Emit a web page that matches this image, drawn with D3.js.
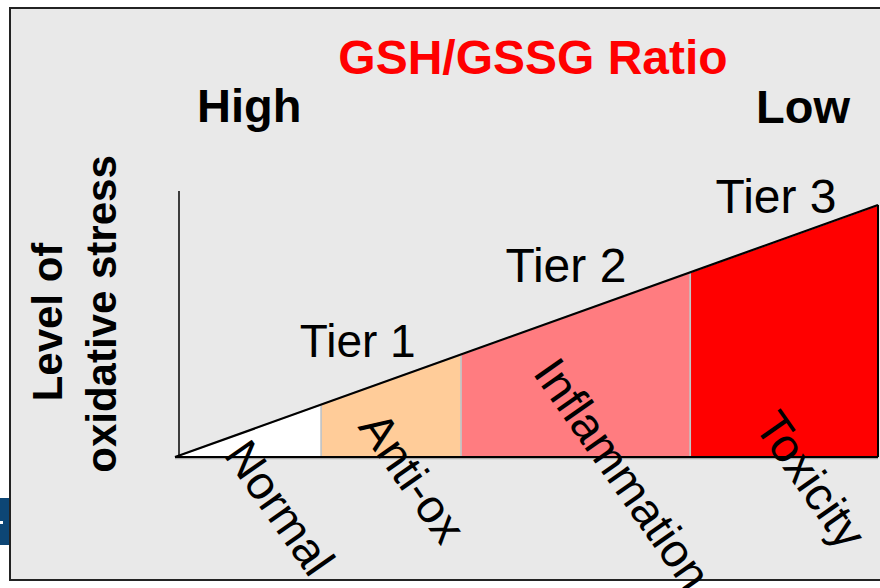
<!DOCTYPE html>
<html>
<head>
<meta charset="utf-8">
<script src="https://cdn.jsdelivr.net/npm/d3@7"></script>
<style>
  body { margin: 0; background: #fff; }
  svg { display: block; font-family: Arial, "Liberation Sans", sans-serif; }
</style>
</head>
<body>
<svg width="880" height="588"></svg>
<script>
// stages along the GSH/GSSG axis (0 = high ratio, 100 = low ratio)
const stages = ['Normal', 'Anti-ox', 'Inflammation', 'Toxicity']
const stageStart = [0, 20.8, 40.7, 73.3]
const stageEnd = [20.8, 40.7, 73.3, 100]
const stageColors = ['#ffffff', '#ffcc99', '#ff7c80', '#ff0000']
const tiers = ['Tier 1', 'Tier 2', 'Tier 3']
const tierAt = [26, 55.6, 85.5]

const svg = d3.select('svg')
const width = +svg.attr('width')

// frame
svg.append('rect')
  .attr('x', 10).attr('y', 8)
  .attr('width', width + 10).attr('height', 572)
  .attr('fill', '#e9e9e9')
  .attr('stroke', '#222').attr('stroke-width', 2)

svg.append('rect')
  .attr('x', 0).attr('y', 498).attr('width', 9).attr('height', 47)
  .attr('fill', '#0d4675')
svg.append('rect')
  .attr('x', 0).attr('y', 521).attr('width', 3).attr('height', 3)
  .attr('fill', '#fff')

const x = d3.scaleLinear().domain([0, 100]).range([175, 878])
const y = d3.scaleLinear().domain([0, 100]).range([457, 205])

// stress rises linearly with the ratio position
const stress = v => v

const g = svg.append('g')

g.selectAll('path.stage')
  .data(stages)
  .enter()
  .append('path')
  .attr('class', 'stage')
  .attr('d', (d, i) => {
    const a = stageStart[i], b = stageEnd[i]
    return d3.line()([
      [x(a), y(0)], [x(a), y(stress(a))], [x(b), y(stress(b))], [x(b), y(0)]
    ]) + 'Z'
  })
  .attr('fill', (d, i) => stageColors[i])
  .attr('stroke', '#c4c4c4')
  .attr('stroke-width', 1.5)

// axes
g.append('line')
  .attr('x1', 179).attr('x2', 179)
  .attr('y1', y(105.6)).attr('y2', y(0))
  .attr('stroke', '#111').attr('stroke-width', 1.6)

g.append('line')
  .attr('x1', x(0)).attr('x2', x(100))
  .attr('y1', y(0) + 1.5).attr('y2', y(0) + 1.5)
  .attr('stroke', '#aaa').attr('stroke-width', 1.5)

g.append('line')
  .attr('x1', x(0)).attr('x2', x(100))
  .attr('y1', y(0)).attr('y2', y(0))
  .attr('stroke', '#000').attr('stroke-width', 2)

g.append('line')
  .attr('x1', x(0)).attr('y1', y(0))
  .attr('x2', x(100)).attr('y2', y(stress(100)))
  .attr('stroke', '#000').attr('stroke-width', 2.2)

g.append('line')
  .attr('x1', x(100)).attr('x2', x(100))
  .attr('y1', y(stress(100))).attr('y2', y(0))
  .attr('stroke', '#000').attr('stroke-width', 2)

// tier labels
const tierLift = [34.5, 35, 28.5]
const tierSize = [46, 48, 48]
g.selectAll('text.tier')
  .data(tiers)
  .enter()
  .append('text')
  .attr('class', 'tier')
  .attr('x', (d, i) => x(tierAt[i]))
  .attr('y', (d, i) => y(stress(tierAt[i])) - tierLift[i])
  .attr('text-anchor', 'middle')
  .attr('font-size', (d, i) => tierSize[i])
  .text(d => d)

// rotated stage labels
const labelDx = [48, 36, 71, 63]
const labelDy = [-2, -30, -84, -31]
g.selectAll('text.stage')
  .data(stages)
  .enter()
  .append('text')
  .attr('class', 'stage')
  .attr('transform', (d, i) =>
    `translate(${x(stageStart[i]) + labelDx[i]}, ${y(0) + labelDy[i]}) rotate(55)`)
  .attr('font-size', 47)
  .text(d => d)

// titles
svg.append('text')
  .attr('x', 533).attr('y', 74)
  .attr('text-anchor', 'middle')
  .attr('font-size', 48).attr('font-weight', 'bold')
  .attr('fill', '#ff0000')
  .text('GSH/GSSG Ratio')

svg.append('text')
  .attr('x', 197).attr('y', 122)
  .attr('font-size', 47).attr('font-weight', 'bold')
  .text('High')

svg.append('text')
  .attr('x', 850).attr('y', 123)
  .attr('text-anchor', 'end')
  .attr('font-size', 47).attr('font-weight', 'bold')
  .text('Low')

svg.append('text')
  .attr('transform', 'translate(62, 322) rotate(-90)')
  .attr('text-anchor', 'middle')
  .attr('font-size', 42).attr('font-weight', 'bold')
  .text('Level of')

svg.append('text')
  .attr('transform', 'translate(116, 314) rotate(-90)')
  .attr('text-anchor', 'middle')
  .attr('font-size', 42).attr('font-weight', 'bold')
  .text('oxidative stress')
</script>
</body>
</html>
